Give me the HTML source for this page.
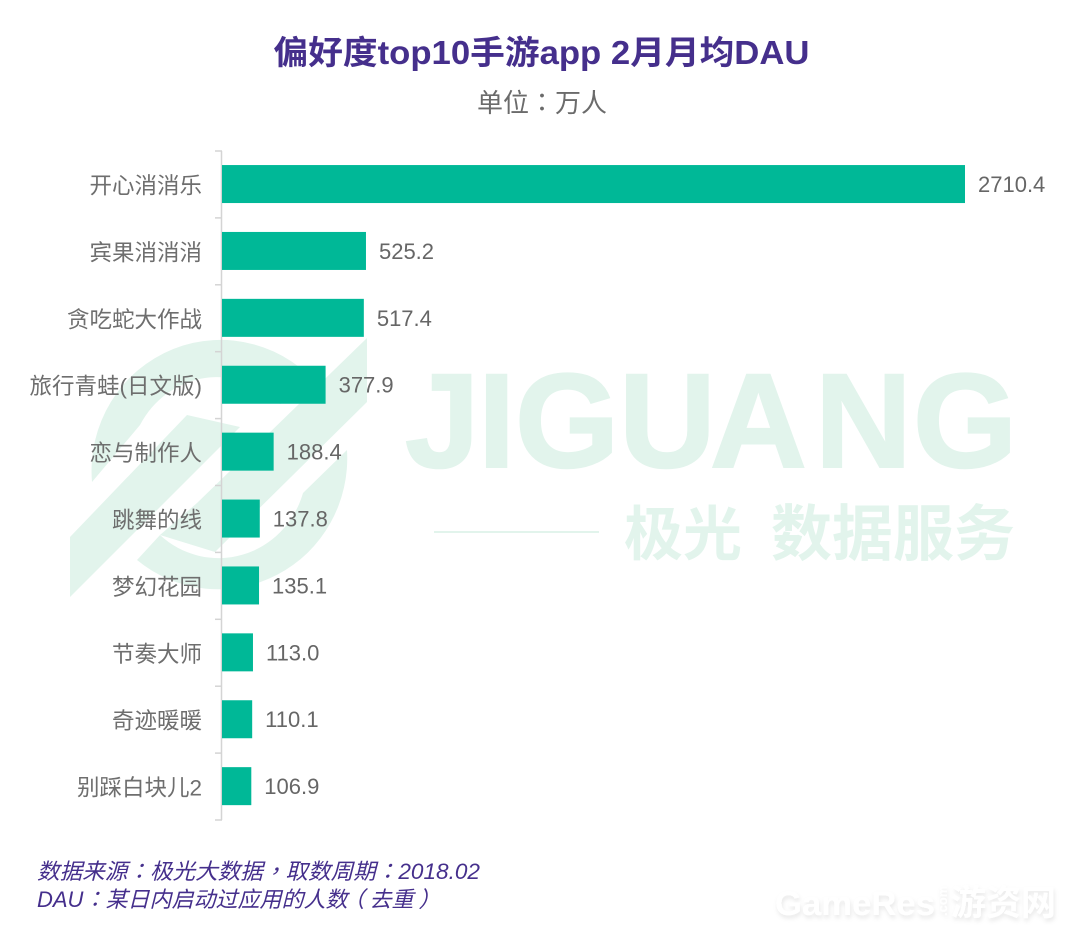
<!DOCTYPE html>
<html>
<head>
<meta charset="utf-8">
<title>偏好度top10手游app 2月月均DAU</title>
<style>
html,body{margin:0;padding:0;background:#fff;width:1080px;height:937px;overflow:hidden}
svg{display:block}
text{font-family:"Liberation Sans","Noto Sans CJK SC",sans-serif}
.tc{font-family:"Noto Sans CJK TC",sans-serif}
</style>
</head>
<body>
<svg id="chart" xmlns="http://www.w3.org/2000/svg" width="1080" height="937" viewBox="0 0 1080 937">
  <filter id="soft" x="-10%" y="-10%" width="120%" height="130%"><feDropShadow dx="1" dy="3" stdDeviation="2" flood-color="#000" flood-opacity="0.09"/></filter>
  <g id="watermark">
    <g fill="#e2f4ec">
      <path d="M92 482A129 131 0 0 1 322 390L280 404A88 91 0 0 0 140 425Z"/>
      <path d="M347 450A129 131 0 0 1 137 560L160 535A88 91 0 0 0 303 493Z"/>
      <path d="M70 537L187 415L240 427L70 597Z"/>
      <path d="M367 338L367 402L215 552L160 535L197 503Z"/>
    </g>
    <text x="405 478 515 619 710 815 913" y="467" font-size="134" font-weight="700" fill="#e2f4ec" stroke="#e2f4ec" stroke-width="2">JIGUANG</text>
    <rect x="434" y="531" width="165" height="2" fill="#e2f4ec"/>
    <text x="624" y="555" font-size="59" font-weight="700" fill="#e2f4ec">极光</text>
    <text x="771" y="555" font-size="61" font-weight="700" fill="#e2f4ec">数据服务</text>
  </g>

  <text x="541.5" y="64" text-anchor="middle" font-size="33" font-weight="700" fill="#452f8c" textLength="536" lengthAdjust="spacingAndGlyphs">偏好度top10手游app 2月月均DAU</text>
  <text x="542" y="112" text-anchor="middle" font-size="26" fill="#6b6b6b">单位<tspan class="tc">：</tspan>万人</text>

  <g id="axis"></g>
  <g id="bars"></g>

  <g font-size="22" font-style="italic" fill="#452f8c">
    <text x="37" y="879" textLength="443" lengthAdjust="spacingAndGlyphs">数据来源<tspan class="tc">：</tspan>极光大数据<tspan class="tc">，</tspan>取数周期<tspan class="tc">：</tspan>2018.02</text>
    <text x="37" y="907">DAU<tspan class="tc">：</tspan>某日内启动过应用的人数<tspan dx="-5">（</tspan><tspan dx="5">去重</tspan><tspan dx="5">）</tspan></text>
  </g>

  <g fill="#fff" font-weight="700" filter="url(#soft)">
    <text x="775" y="915" font-size="34" textLength="160" lengthAdjust="spacingAndGlyphs">GameRes</text>
    <text transform="translate(947,916) rotate(-90)" font-size="13">.com</text>
    <text x="951" y="915" font-size="35">游资网</text>
  </g>
</svg>
<script>
const categories = ["开心消消乐","宾果消消消","贪吃蛇大作战","旅行青蛙(日文版)","恋与制作人","跳舞的线","梦幻花园","节奏大师","奇迹暖暖","别踩白块儿2"];
const seriesValues = [2710.4,525.2,517.4,377.9,188.4,137.8,135.1,113.0,110.1,106.9];
const valueLabels = ["2710.4","525.2","517.4","377.9","188.4","137.8","135.1","113.0","110.1","106.9"];

const NS = "http://www.w3.org/2000/svg";
const x0 = 222, pxPerUnit = 743 / 2710.4;
const top0 = 151, band = 66.9, barH = 38;
function xScale(v){ return x0 + v * pxPerUnit; }
function bandTop(i){ return top0 + i * band; }
function make(tag, attrs, parent){
  const el = document.createElementNS(NS, tag);
  for (const k in attrs) el.setAttribute(k, attrs[k]);
  parent.appendChild(el);
  return el;
}
const axisG = document.getElementById("axis");
const barsG = document.getElementById("bars");
const axisLine = make("line", {x1:x0-0.5, x2:x0-0.5, y1:bandTop(0), y2:bandTop(categories.length), stroke:"#d4d4d4", "stroke-width":1.5}, axisG);


for (let i = 0; i <= categories.length; i++) {
  const tick = make("line", {x1:x0-7, x2:x0, y1:bandTop(i), y2:bandTop(i), stroke:"#d4d4d4", "stroke-width":1.5}, axisG);
  
  
}
categories.forEach(function(name, i){
  const cy = bandTop(i) + band / 2;
  const label = make("text", {x:x0-20, y:cy+9, "text-anchor":"end", "font-size":22.5, fill:"#6e6e6e"}, axisG);
  label.textContent = name;
  
  
  const bar = make("rect", {x:x0, y:cy-barH/2-0.4, width:xScale(seriesValues[i])-x0, height:barH, fill:"#00b897"}, barsG);
  
  
  const val = make("text", {x:xScale(seriesValues[i])+13, y:cy+7.5, "font-size":22, fill:"#666"}, barsG);
  val.textContent = valueLabels[i];
  
  
});
</script>
</body>
</html>
